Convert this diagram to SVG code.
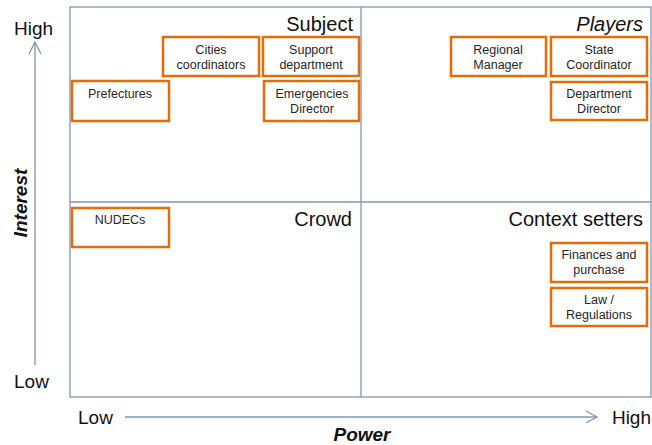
<svg xmlns="http://www.w3.org/2000/svg" width="652" height="445" viewBox="0 0 652 445">
<style>
.grid{fill:none;stroke:#8096b6;stroke-width:1.3}
.box{fill:#fff;stroke:#e46c0a;stroke-width:2.5}
.bt{font-family:"Liberation Sans",Arial,sans-serif;font-size:12.5px;fill:#262626;text-anchor:middle}
.ql{font-family:"Liberation Sans",Arial,sans-serif;font-size:20px;fill:#111;text-anchor:end}
.ax{font-family:"Liberation Sans",Arial,sans-serif;font-size:19px;fill:#111}
.at{font-family:"Liberation Sans",Arial,sans-serif;font-size:19px;font-weight:bold;font-style:italic;fill:#111;text-anchor:middle}
.arr{fill:none;stroke:#8096b6;stroke-width:1.3}
</style>
<rect width="652" height="445" fill="#fff"/>
<g id="grid">
<rect class="grid" x="70" y="7" width="581" height="390"/>
<line class="grid" x1="361" y1="7" x2="361" y2="397"/>
<line class="grid" x1="70" y1="202" x2="651" y2="202"/>
</g>
<g id="connectors">
<line class="arr" x1="35" y1="365" x2="35" y2="42"/>
<polyline class="arr" points="29,54 35,42 41,54"/>
<line class="arr" x1="125" y1="417" x2="597" y2="417"/>
<polyline class="arr" points="586,411 597,417 586,423"/>
</g>
<g id="axes">
<text class="ax" x="14" y="35">High</text>
<text class="ax" x="14" y="388">Low</text>
<text class="ax" x="78" y="424">Low</text>
<text class="ax" x="651" y="424" text-anchor="end">High</text>
<text class="at" x="362" y="441">Power</text>
<text class="at" transform="translate(27,203) rotate(-90)">Interest</text>
</g>
<g id="quadrants">
<text class="ql" x="353" y="31">Subject</text>
<text class="ql" x="643" y="31" font-style="italic">Players</text>
<text class="ql" x="352" y="226">Crowd</text>
<text class="ql" x="643" y="226">Context setters</text>
</g>
<g id="cities"><rect class="box" x="163" y="37" width="96" height="39"/><text class="bt" x="211" y="54">Cities</text><text class="bt" x="211" y="69">coordinators</text></g>
<g id="support"><rect class="box" x="263" y="37" width="96" height="39"/><text class="bt" x="311" y="54">Support</text><text class="bt" x="311" y="69">department</text></g>
<g id="prefectures"><rect class="box" x="72" y="81" width="97" height="40"/><text class="bt" x="120" y="98">Prefectures</text></g>
<g id="emergencies"><rect class="box" x="264" y="81" width="95" height="40"/><text class="bt" x="312" y="98">Emergencies</text><text class="bt" x="312" y="113">Director</text></g>
<g id="regional"><rect class="box" x="451" y="37" width="95" height="39"/><text class="bt" x="498" y="54">Regional</text><text class="bt" x="498" y="69">Manager</text></g>
<g id="state"><rect class="box" x="551" y="37" width="96" height="39"/><text class="bt" x="599" y="54">State</text><text class="bt" x="599" y="69">Coordinator</text></g>
<g id="department"><rect class="box" x="551" y="82" width="96" height="38"/><text class="bt" x="599" y="98">Department</text><text class="bt" x="599" y="113">Director</text></g>
<g id="nudecs"><rect class="box" x="72" y="208" width="97" height="39"/><text class="bt" x="120" y="224" font-size="11.5">NUDECs</text></g>
<g id="finances"><rect class="box" x="551" y="243" width="96" height="39"/><text class="bt" x="599" y="259">Finances and</text><text class="bt" x="599" y="274">purchase</text></g>
<g id="law"><rect class="box" x="551" y="288" width="96" height="38"/><text class="bt" x="599" y="304">Law /</text><text class="bt" x="599" y="319">Regulations</text></g>
</svg>
